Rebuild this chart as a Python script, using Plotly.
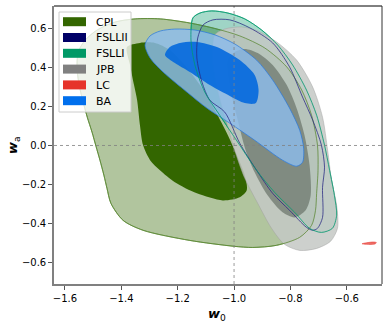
import plotly.graph_objects as go

# contour outlines (w0, wa)
cpl_outer_w0 = [-1.528, -1.546, -1.557, -1.553, -1.528, -1.486, -1.422, -1.351, -1.262, -1.157, -1.068, -0.980,
                -0.891, -0.813, -0.760, -0.725, -0.704, -0.702, -0.707, -0.711, -0.725, -0.767, -0.849, -0.934,
                -1.000, -1.157, -1.323, -1.394, -1.437, -1.451, -1.462, -1.476, -1.490, -1.504, -1.521]
cpl_outer_wa = [0.181, 0.284, 0.386, 0.478, 0.540, 0.591, 0.632, 0.648, 0.648, 0.627, 0.599, 0.561,
                0.499, 0.402, 0.284, 0.155, 0.002, -0.127, -0.245, -0.332, -0.409, -0.470, -0.511, -0.522,
                -0.516, -0.486, -0.434, -0.383, -0.296, -0.219, -0.152, -0.075, -0.004, 0.068, 0.145]

cpl_inner_w0 = [-1.380, -1.369, -1.355, -1.344, -1.334, -1.323, -1.298, -1.263, -1.210, -1.132, -1.040,
                -0.980, -0.955, -0.962, -0.990, -1.022, -1.068, -1.121, -1.175, -1.228, -1.281, -1.334]
cpl_inner_wa = [0.504, 0.411, 0.309, 0.232, 0.104, 0.002, -0.075, -0.127, -0.188, -0.245, -0.281,
                -0.265, -0.229, -0.152, -0.050, 0.053, 0.181, 0.309, 0.412, 0.489, 0.525, 0.525]

fslli_w0 = [-1.146, -1.121, -1.079, -1.022, -0.962, -0.902, -0.845, -0.792, -0.743, -0.707, -0.679, -0.661,
            -0.644, -0.636, -0.651, -0.690, -0.732, -0.785, -0.856, -0.920, -0.980, -1.051, -1.104, -1.139, -1.153]
fslli_wa = [0.653, 0.678, 0.689, 0.678, 0.648, 0.591, 0.514, 0.412, 0.284, 0.155, 0.002, -0.127,
            -0.255, -0.357, -0.424, -0.445, -0.424, -0.342, -0.240, -0.127, 0.002, 0.155, 0.273, 0.412, 0.540]

fsllii_w0 = [-1.110, -1.075, -1.015, -0.944, -0.863, -0.803, -0.757, -0.721, -0.690, -0.679, -0.686, -0.686,
             -0.704, -0.721, -0.743, -0.803, -0.863, -0.920, -0.980, -1.033, -1.086, -1.114, -1.132, -1.129]
fsllii_wa = [0.617, 0.643, 0.643, 0.602, 0.525, 0.402, 0.248, 0.130, 0.002, -0.111, -0.214, -0.368,
             -0.424, -0.434, -0.419, -0.332, -0.245, -0.127, 0.012, 0.171, 0.232, 0.325, 0.448, 0.550]

jpb_outer_w0 = [-1.068, -1.033, -0.973, -0.916, -0.849, -0.778, -0.721, -0.686, -0.668, -0.654, -0.636, -0.633,
                -0.658, -0.707, -0.767, -0.821, -0.867, -0.916, -0.962, -0.998, -1.029, -1.058, -1.075]
jpb_outer_wa = [0.566, 0.596, 0.607, 0.586, 0.530, 0.437, 0.299, 0.145, -0.024, -0.178, -0.306, -0.424,
                -0.491, -0.527, -0.537, -0.506, -0.424, -0.296, -0.168, -0.024, 0.130, 0.284, 0.437]

jpb_inner_w0 = [-1.022, -0.998, -0.962, -0.916, -0.863, -0.813, -0.778, -0.750, -0.732, -0.728, -0.746,
                -0.785, -0.828, -0.881, -0.927, -0.959, -0.987, -1.012]
jpb_inner_wa = [0.437, 0.478, 0.494, 0.473, 0.412, 0.309, 0.191, 0.053, -0.101, -0.255, -0.332,
                -0.368, -0.342, -0.255, -0.137, -0.024, 0.130, 0.284]

lc_w0 = [-0.546, -0.530, -0.505, -0.495, -0.500, -0.530]
lc_wa = [-0.503, -0.498, -0.494, -0.497, -0.504, -0.506]

ba_outer_w0 = [-1.316, -1.298, -1.262, -1.210, -1.139, -1.068, -0.998, -0.920, -0.863, -0.803, -0.767, -0.753,
               -0.757, -0.778, -0.828, -0.927, -1.015, -1.096, -1.167, -1.252, -1.298]
ba_outer_wa = [0.514, 0.561, 0.586, 0.596, 0.591, 0.566, 0.520, 0.437, 0.335, 0.191, 0.078, -0.014,
               -0.086, -0.106, -0.075, 0.027, 0.114, 0.191, 0.273, 0.376, 0.448]

ba_inner_w0 = [-1.245, -1.228, -1.192, -1.132, -1.061, -0.980, -0.927, -0.913, -0.923, -0.962, -1.015,
               -1.086, -1.157, -1.210]
ba_inner_wa = [0.463, 0.504, 0.525, 0.530, 0.504, 0.437, 0.361, 0.284, 0.217, 0.217, 0.253,
               0.309, 0.376, 0.422]

labels = ["CPL", "FSLLII", "FSLLI", "JPB", "LC", "BA"]
colors = ["#336600", "#000066", "#009966", "#808080", "#e6332a", "#006fed"]

x_ticks = [-1.6, -1.4, -1.2, -1.0, -0.8, -0.6]
y_ticks = [-0.6, -0.4, -0.2, 0.0, 0.2, 0.4, 0.6]

W, H = 389, 327
ML, MR, MT, MB = 54, 7, 6, 43


def closed(a):
    return list(a) + [a[0]]


def region(x, y, fillcolor, linecolor="rgba(0,0,0,0)", width=0.0):
    return go.Scatter(x=closed(x), y=closed(y), mode="lines", fill="toself",
                      fillcolor=fillcolor, line=dict(color=linecolor, width=width, shape="spline", smoothing=0.8),
                      showlegend=False, hoverinfo="skip")


def outline(x, y, linecolor, width=1.0):
    return go.Scatter(x=closed(x), y=closed(y), mode="lines",
                      line=dict(color=linecolor, width=width, shape="spline", smoothing=0.8),
                      showlegend=False, hoverinfo="skip")


# pixel -> paper coords (for legend placement)
def px(x):
    return (x - ML) / (W - ML - MR)


def py(y):
    return (H - MB - y) / (H - MT - MB)


fig = go.Figure()
fig.add_trace(region(cpl_outer_w0, cpl_outer_wa, "rgba(51,102,0,0.38)", "rgba(80,130,40,0.9)", 0.8))
fig.add_trace(region(cpl_inner_w0, cpl_inner_wa, "#336600"))
fig.add_trace(region(fsllii_w0, fsllii_wa, "rgba(0,0,102,0.04)"))
fig.add_trace(region(fslli_w0, fslli_wa, "rgba(0,153,102,0.35)", "rgba(0,153,102,0.8)", 0.8))
fig.add_trace(region(jpb_outer_w0, jpb_outer_wa, "rgba(196,200,196,0.85)", "rgba(160,160,160,0.8)", 0.6))
fig.add_trace(region(jpb_inner_w0, jpb_inner_wa, "rgba(110,120,110,0.75)"))
fig.add_trace(region(lc_w0, lc_wa, "rgba(230,51,42,0.7)", "rgba(230,51,42,0.9)", 0.6))
fig.add_trace(region(ba_outer_w0, ba_outer_wa, "rgba(140,188,235,0.82)", "rgba(40,120,220,0.9)", 0.8))
fig.add_trace(region(ba_inner_w0, ba_inner_wa, "rgba(0,102,221,0.88)"))

# contour edges that show through the fills
fig.add_trace(outline(cpl_outer_w0, cpl_outer_wa, "rgba(90,135,50,0.9)", 0.8))
fig.add_trace(outline(fsllii_w0, fsllii_wa, "rgba(40,40,130,0.85)", 0.9))
fig.add_trace(outline(fslli_w0, fslli_wa, "rgba(0,153,110,0.85)", 0.9))

fig.add_vline(x=-1.0, line=dict(color="gray", width=0.8, dash="dot"), layer="above")
fig.add_hline(y=0.0, line=dict(color="gray", width=0.8, dash="dot"), layer="above")

# top and right frame
fig.add_shape(type="line", xref="paper", yref="paper", x0=0, x1=1, y0=1, y1=1, line=dict(color="black", width=1))
fig.add_shape(type="line", xref="paper", yref="paper", x0=1, x1=1, y0=0, y1=1, line=dict(color="#333333", width=1))

# matplotlib-style legend drawn by hand
fig.add_shape(type="rect", xref="paper", yref="paper", x0=px(59), x1=px(131), y0=py(112), y1=py(12),
              fillcolor="rgba(255,255,255,0.8)", line=dict(color="#cccccc", width=1), layer="above")
for i, (name, c) in enumerate(zip(labels, colors)):
    yc = 21.7 + 15.8 * i
    fig.add_shape(type="rect", xref="paper", yref="paper", x0=px(63), x1=px(86),
                  y0=py(yc + 4.5), y1=py(yc - 4.5), fillcolor=c, line=dict(width=0), layer="above")
    fig.add_annotation(text=name, xref="paper", yref="paper", x=px(94), y=py(yc + 0.5),
                       showarrow=False, xanchor="left", yanchor="middle", font=dict(size=11))

fig.add_annotation(text="<b><i>w</i></b><sub>0</sub>", xref="paper", yref="paper", x=px(217), y=py(314),
                   showarrow=False, font=dict(size=13), xanchor="center", yanchor="middle")
fig.add_annotation(text="<b><i>w</i></b><sub>a</sub>", xref="paper", yref="paper", x=px(13), y=py(145),
                   showarrow=False, font=dict(size=13), textangle=-90, xanchor="center", yanchor="middle")

fig.update_layout(
    width=W, height=H,
    margin=dict(l=ML, r=MR, t=MT, b=MB, autoexpand=False),
    plot_bgcolor="white", paper_bgcolor="white",
    font=dict(family="DejaVu Sans", size=10, color="black"),
    showlegend=False,
    xaxis=dict(range=[-1.639, -0.475], tickvals=x_ticks, tickformat=".1f", showgrid=False, zeroline=False,
               showline=True, linecolor="#808080", linewidth=1.5, ticks="outside", ticklen=4,
               tickcolor="#555555", automargin=False),
    yaxis=dict(range=[-0.709, 0.714], tickvals=y_ticks, tickformat=".1f", showgrid=False, zeroline=False,
               showline=True, linecolor="#808080", linewidth=1.5, ticks="outside", ticklen=4,
               tickcolor="#555555", automargin=False),
)

fig.write_html("out.html", config={"displayModeBar": False},
               post_script="document.body.style.margin='0';")
